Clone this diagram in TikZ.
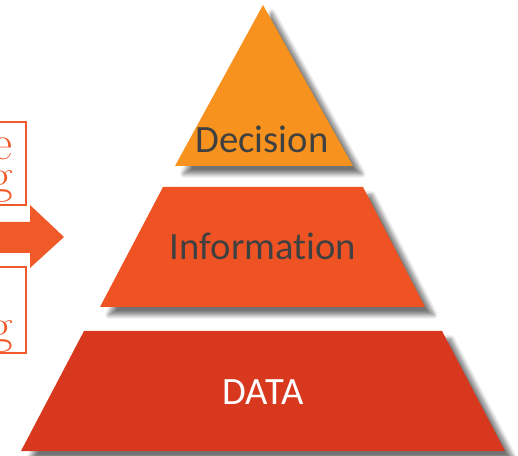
\documentclass[tikz,border=0pt]{standalone}
\usepackage{fontspec}
\newfontfamily\calib[Ligatures={NoCommon,NoRequired,NoContextual}]{Carlito}
\usetikzlibrary{shadows.blur}
\definecolor{topc}{HTML}{F7921E}
\definecolor{midc}{HTML}{F05323}
\definecolor{botc}{HTML}{D8381E}
\definecolor{txtc}{HTML}{404040}
\definecolor{boxc}{HTML}{F05A28}
\tikzset{
  layer/.style={blur shadow={shadow xshift=5pt, shadow yshift=-4.5pt, shadow opacity=55, shadow blur steps=8, shadow blur radius=2.5pt}},
  lbl/.style={anchor=base, font=\calib\fontsize{22}{24}\selectfont, inner sep=0pt},
  sidebox/.style={draw=boxc, line width=0.7pt},
  sidetxt/.style={anchor=base east, font=\fontsize{28}{30}\selectfont, text=boxc, inner sep=0pt}
}
\begin{document}
\begin{tikzpicture}[x=0.02cm, y=-0.02cm]
\useasboundingbox (0,0) rectangle (518,456);
% layers
\fill[topc, layer] (263,5) -- (353,166) -- (175,166) -- cycle;
\fill[midc, layer] (163,187) -- (363,187) -- (425,307) -- (100,307) -- cycle;
\fill[botc, layer] (84,331) -- (442,331) -- (505,451) -- (21,451) -- cycle;
\node[lbl, text=txtc] (dec) at (262,153) {Decision};
\node[lbl, text=txtc] (inf) at (263,259) {Information};
\node[lbl, text=white] (dat) at (263,404) {DATA};
% side boxes
\draw[sidebox] (-5,122) rectangle (26,205);
\draw[sidebox] (-5,267) rectangle (26,353);
\node[sidetxt] (t1) at (13,160) {e};
\node[sidetxt] (t2) at (13,193) {g};
\node[sidetxt] (t3) at (13,342) {g};
% arrow
\fill[boxc] (0,222) -- (30,222) -- (30,205) -- (64,237) -- (30,268) -- (30,253) -- (0,253) -- cycle;
\end{tikzpicture}
\end{document}
